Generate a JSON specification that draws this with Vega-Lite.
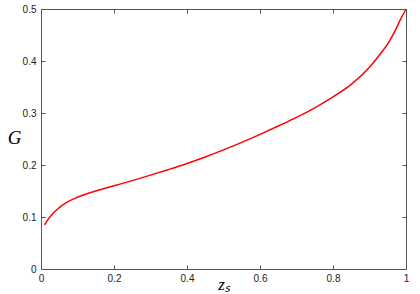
{
  "$schema": "https://vega.github.io/schema/vega-lite/v6.json",
  "width": 365,
  "height": 260,
  "autosize": "none",
  "padding": {"left": 41, "top": 9, "right": 14, "bottom": 25},
  "background": "white",
  "config": {
    "view": {"stroke": "#555555", "strokeWidth": 1},
    "axis": {
      "grid": false,
      "domain": false,
      "offset": -4,
      "labelFont": "Liberation Sans",
      "labelFontSize": 10,
      "labelColor": "#222222",
      "tickColor": "#555555",
      "tickWidth": 1,
      "tickSize": 4,
      "format": ".1~f",
      "titleFont": "Liberation Serif",
      "titleFontStyle": "italic",
      "titleFontWeight": "normal",
      "titleColor": "#000000"
    }
  },
  "data": {
    "values": [
      {"z": 0.01, "G": 0.085},
      {"z": 0.02, "G": 0.096},
      {"z": 0.03, "G": 0.105},
      {"z": 0.05, "G": 0.118},
      {"z": 0.075, "G": 0.130},
      {"z": 0.1, "G": 0.138},
      {"z": 0.15, "G": 0.150},
      {"z": 0.2, "G": 0.160},
      {"z": 0.25, "G": 0.170},
      {"z": 0.3, "G": 0.1805},
      {"z": 0.35, "G": 0.1915},
      {"z": 0.4, "G": 0.203},
      {"z": 0.45, "G": 0.2155},
      {"z": 0.5, "G": 0.229},
      {"z": 0.55, "G": 0.2435},
      {"z": 0.6, "G": 0.259},
      {"z": 0.65, "G": 0.275},
      {"z": 0.7, "G": 0.2915},
      {"z": 0.75, "G": 0.310},
      {"z": 0.8, "G": 0.331},
      {"z": 0.85, "G": 0.355},
      {"z": 0.9, "G": 0.388},
      {"z": 0.93, "G": 0.414},
      {"z": 0.95, "G": 0.433},
      {"z": 0.97, "G": 0.458},
      {"z": 0.985, "G": 0.480},
      {"z": 1.0, "G": 0.5}
    ]
  },
  "layer": [
    {
      "mark": {"type": "line", "color": "#ff0000", "strokeWidth": 1.5, "interpolate": "monotone"},
      "encoding": {
        "x": {
          "field": "z", "type": "quantitative",
          "scale": {"domain": [0, 1], "nice": false, "zero": false},
          "axis": {"values": [0, 0.2, 0.4, 0.6, 0.8, 1], "labelPadding": 4, "labelFlush": false, "title": "zₛ", "titleFontSize": 17, "titleBaseline": "alphabetic", "titleY": 24, "titleX": 182.5, "titleAlign": "center"}
        },
        "y": {
          "field": "G", "type": "quantitative",
          "scale": {"domain": [0, 0.5], "nice": false},
          "axis": {"values": [0, 0.1, 0.2, 0.3, 0.4, 0.5], "labelPadding": 5, "title": "G", "titleFontSize": 19, "titleAngle": 0, "titleX": -31, "titleY": 128, "titleBaseline": "middle", "titleAlign": "center"}
        }
      }
    },
    {
      "mark": {"type": "line", "opacity": 0},
      "encoding": {
        "x": {"field": "z", "type": "quantitative", "axis": {"orient": "top", "values": [0, 0.2, 0.4, 0.6, 0.8, 1], "labels": false, "title": null}},
        "y": {"field": "G", "type": "quantitative", "axis": {"orient": "right", "values": [0, 0.1, 0.2, 0.3, 0.4, 0.5], "labels": false, "title": null}}
      }
    }
  ],
  "resolve": {"axis": {"x": "independent", "y": "independent"}}
}
